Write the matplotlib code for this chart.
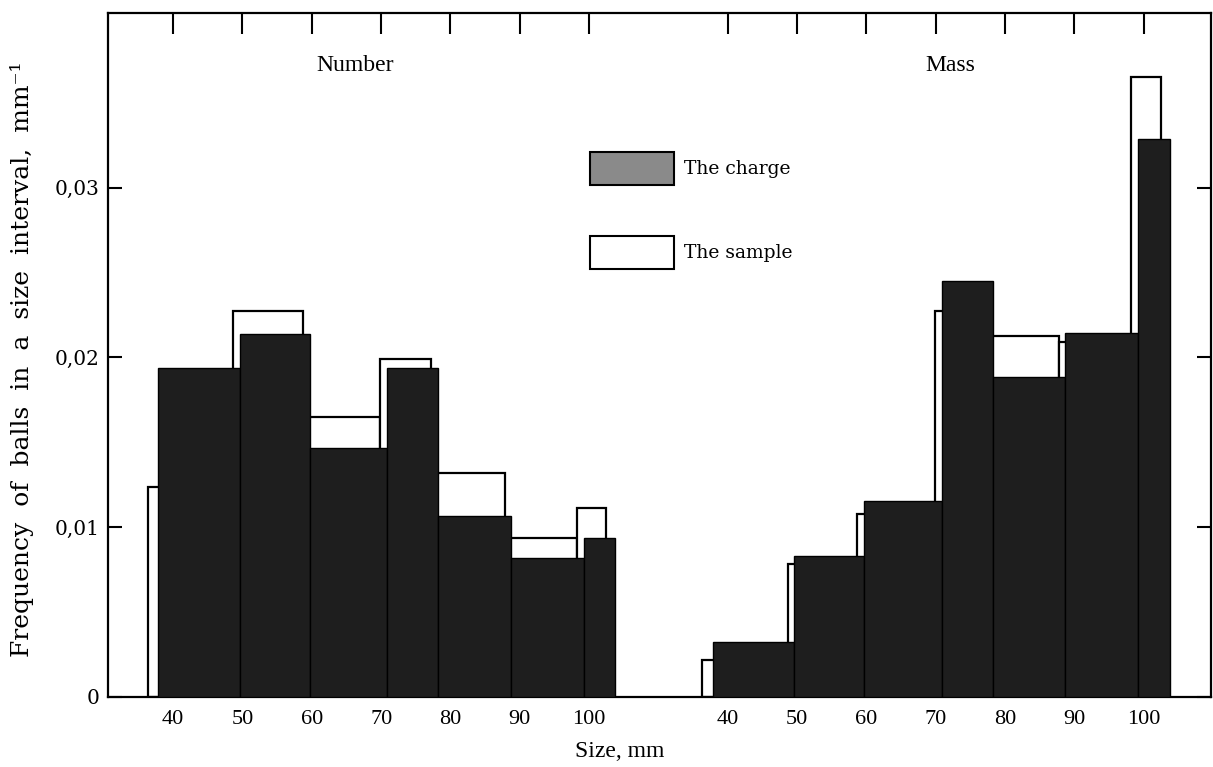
import numpy as np
import matplotlib.pyplot as plt
from matplotlib.patches import Patch

# bin edges (mm), shared by both panels
charge_edges = [37.8, 49.6, 59.7, 70.9, 78.2, 88.7, 99.2, 103.8]
sample_edges = [36.3, 48.7, 58.7, 69.9, 77.2, 87.8, 98.2, 102.5]

number_charge = [0.0194, 0.02136, 0.01468, 0.01936, 0.01066, 0.00818, 0.00938]
number_sample = [0.01238, 0.02276, 0.01651, 0.01993, 0.01322, 0.00938, 0.01116]
mass_charge = [0.00322, 0.0083, 0.01155, 0.02448, 0.01887, 0.02141, 0.03288]
mass_sample = [0.00215, 0.00781, 0.01079, 0.02275, 0.02124, 0.02092, 0.03649]

size_ticks = [40, 50, 60, 70, 80, 90, 100]
y_ticks = [0, 0.01, 0.02, 0.03]
y_labels = ['0', '0,01', '0,02', '0,03']

MASS_OFFSET = 80  # mass panel is drawn to the right of the number panel

CHARGE_COLOR = '#1e1e1e'
SERIF = 'Liberation Serif'
WIDE_SERIF = 'DejaVu Serif'

fig = plt.figure(figsize=(12.13, 7.67), dpi=100)
ax = fig.add_axes([108 / 1213, 1 - 697 / 767, 1103 / 1213, 684.3 / 767])


def draw_hist(edges, heights, offset, **kw):
    edges = np.asarray(edges) + offset
    ax.bar(edges[:-1], heights, width=np.diff(edges), align='edge', **kw)


for off, smp, chg in [(0, number_sample, number_charge),
                      (MASS_OFFSET, mass_sample, mass_charge)]:
    draw_hist(sample_edges, smp, off, facecolor='white', edgecolor='black',
              linewidth=1.6, zorder=2)
    draw_hist(charge_edges, chg, off, facecolor=CHARGE_COLOR,
              edgecolor='black', linewidth=1.0, zorder=3)

ax.set_xlim(30.6, 189.7)
ax.set_ylim(0, 0.0403)

xt = size_ticks + [t + MASS_OFFSET for t in size_ticks]
ax.set_xticks(xt)
ax.set_xticklabels([str(t) for t in size_ticks] * 2, fontfamily=SERIF, fontsize=16)
ax.tick_params(axis='x', top=True, bottom=False, direction='in', length=15,
               width=1.5, pad=9)

ax.set_yticks(y_ticks)
ax.set_yticklabels(y_labels, fontfamily=WIDE_SERIF, fontsize=14.5)
ax.tick_params(axis='y', left=True, right=True, direction='in', length=10,
               width=1.5, pad=6)

for sp in ax.spines.values():
    sp.set_linewidth(1.6)

ax.text(66.2, 0.0372, 'Number', ha='center', va='center', fontfamily=SERIF, fontsize=17)
ax.text(72.1 + MASS_OFFSET, 0.0372, 'Mass', ha='center', va='center',
        fontfamily=SERIF, fontsize=17)

ax.set_xlabel('Size, mm', fontfamily=SERIF, fontsize=17)
ax.xaxis.set_label_coords((620 - 108) / 1103, (697 - 741) / 684.3)
ax.set_ylabel('Frequency  of  balls  in  a  size  interval,  mm\u207b\u00b9',
              fontfamily=WIDE_SERIF, fontsize=18)
ax.yaxis.set_label_coords((34 - 108) / 1103, (697 - 359) / 684.3)

fs = 18.5
handles = [Patch(facecolor='#8a8a8a', edgecolor='black', linewidth=1.5, label='The charge'),
           Patch(facecolor='white', edgecolor='black', linewidth=1.5, label='The sample')]
ax.legend(handles=handles, loc='upper left',
          bbox_to_anchor=((590 - 108) / 1103, (697 - 152) / 684.3),
          frameon=False, borderpad=0, borderaxespad=0,
          handlelength=83 / fs, handleheight=43 / fs, handletextpad=10 / fs,
          labelspacing=50 / fs, prop={'family': WIDE_SERIF, 'size': 13.5})

fig.savefig('out.png', dpi=100)
